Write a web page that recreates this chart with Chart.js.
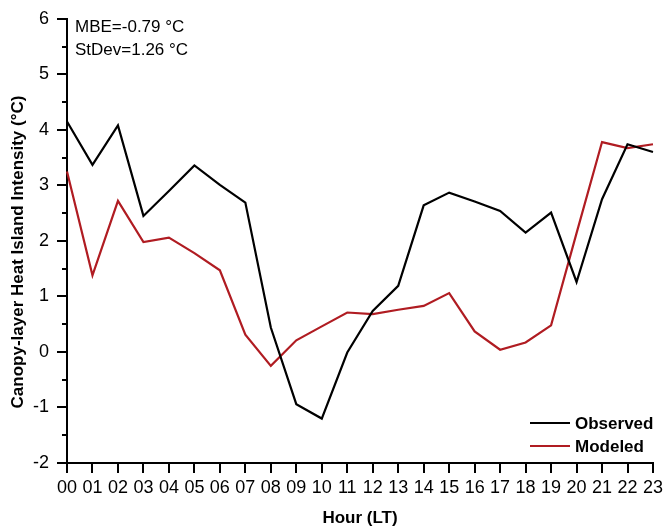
<!DOCTYPE html>
<html>
<head>
<meta charset="utf-8">
<script src="https://cdn.jsdelivr.net/npm/chart.js@4"></script>
<style>
  html, body { margin: 0; padding: 0; background: #fff; }
  #wrap { width: 667px; height: 530px; position: relative; }
</style>
</head>
<body>
<div id="wrap"><canvas id="chart"></canvas></div>
<script>
// Hourly canopy-layer heat island intensity (°C)
const hours = ['00','01','02','03','04','05','06','07','08','09','10','11',
               '12','13','14','15','16','17','18','19','20','21','22','23'];
const observed = [4.15, 3.37, 4.08, 2.45, 2.90, 3.36, 3.01, 2.69, 0.44, -0.94, -1.20, -0.01,
                  0.74, 1.19, 2.64, 2.87, 2.71, 2.54, 2.15, 2.51, 1.26, 2.75, 3.74, 3.60];
const modeled  = [3.25, 1.38, 2.72, 1.98, 2.06, 1.78, 1.47, 0.31, -0.25, 0.21, 0.46, 0.71,
                  0.68, 0.76, 0.83, 1.06, 0.37, 0.04, 0.17, 0.48, 2.14, 3.78, 3.67, 3.74];
const yMin = -2, yMax = 6;
const statLines = ['MBE=-0.79 °C', 'StDev=1.26 °C'];
const xTitle = 'Hour (LT)';
const yTitle = 'Canopy-layer Heat Island Intensity (°C)';

const FONT = 'Arial, "Liberation Sans", Helvetica, sans-serif';

// Half-unit minor ticks on the value axis, axis titles, stats text and legend
const decorations = {
  id: 'decorations',
  afterDraw(chart) {
    const ctx = chart.ctx;
    const y = chart.scales.y;
    const area = chart.chartArea;
    ctx.save();
    ctx.strokeStyle = '#000';
    ctx.lineWidth = 2;
    for (let v = yMin + 0.5; v < yMax; v += 1) {
      const py = Math.round(y.getPixelForValue(v));
      ctx.beginPath();
      ctx.moveTo(area.left - 5, py);
      ctx.lineTo(area.left, py);
      ctx.stroke();
    }

    ctx.fillStyle = '#000';
    // stats
    ctx.font = '17px ' + FONT;
    ctx.textAlign = 'left';
    ctx.textBaseline = 'alphabetic';
    ctx.fillText(statLines[0], area.left + 8, 32);
    ctx.fillText(statLines[1], area.left + 8, 55);

    // axis titles
    ctx.font = 'bold 17px ' + FONT;
    ctx.textAlign = 'center';
    ctx.fillText(xTitle, (area.left + area.right) / 2, 523);
    ctx.save();
    ctx.translate(23, 252);
    ctx.rotate(-Math.PI / 2);
    ctx.fillText(yTitle, 0, 0);
    ctx.restore();

    // legend
    const rows = [423, 446];
    chart.data.datasets.forEach((ds, i) => {
      const ly = rows[i];
      ctx.strokeStyle = ds.borderColor;
      ctx.lineWidth = 2;
      ctx.beginPath();
      ctx.moveTo(530, ly);
      ctx.lineTo(570, ly);
      ctx.stroke();
      ctx.fillStyle = '#000';
      ctx.textAlign = 'left';
      ctx.textBaseline = 'middle';
      ctx.fillText(ds.label, 575, ly + 1);
    });
    ctx.restore();
  }
};

new Chart(document.getElementById('chart'), {
  type: 'line',
  data: {
    labels: hours,
    datasets: [
      { label: 'Observed', data: observed, borderColor: '#000000', borderWidth: 2.2,
        pointRadius: 0, tension: 0, fill: false },
      { label: 'Modeled', data: modeled, borderColor: '#b01c22', borderWidth: 2.2,
        pointRadius: 0, tension: 0, fill: false }
    ]
  },
  options: {
    responsive: true,
    maintainAspectRatio: false,
    animation: false,
    devicePixelRatio: 1,
    layout: { padding: { left: 0, right: 11, top: 14, bottom: 0 } },
    plugins: { legend: { display: false }, tooltip: { enabled: false } },
    scales: {
      x: {
        type: 'category',
        offset: false,
        afterFit(scale) { scale.height = 67; },
        grid: { display: true, drawOnChartArea: false, drawTicks: true, tickLength: 10,
                color: '#000', lineWidth: 2 },
        border: { display: true, color: '#000', width: 2 },
        ticks: { color: '#000', font: { size: 18, family: FONT }, padding: 4,
                 maxRotation: 0, autoSkip: false }
      },
      y: {
        min: yMin, max: yMax,
        afterFit(scale) { scale.width = 67; },
        grid: { display: true, drawOnChartArea: false, drawTicks: true, tickLength: 10,
                color: '#000', lineWidth: 2 },
        border: { display: true, color: '#000', width: 2 },
        ticks: { stepSize: 1, color: '#000', font: { size: 18, family: FONT }, padding: 8 }
      }
    }
  },
  plugins: [decorations]
});
</script>
</body>
</html>
